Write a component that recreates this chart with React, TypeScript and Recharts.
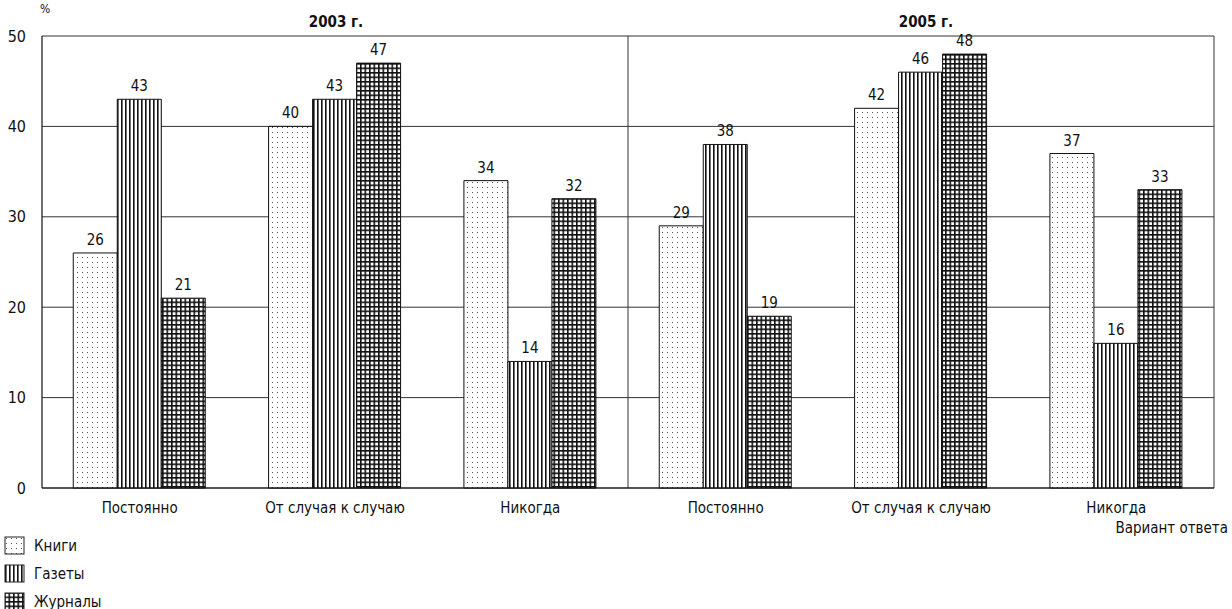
import React from 'react';
import { BarChart, Bar, XAxis, YAxis, CartesianGrid, LabelList } from 'recharts';

const categories = ['Постоянно', 'От случая к случаю', 'Никогда', 'Постоянно', 'От случая к случаю', 'Никогда'];
const books = [26, 40, 34, 29, 42, 37];
const newspapers = [43, 43, 14, 38, 46, 16];
const magazines = [21, 47, 32, 19, 48, 33];
const years = ['2003 г.', '2005 г.'];
const yTicks = [0, 10, 20, 30, 40, 50];

const data = categories.map((c, i) => ({
  key: `${c}-${i}`,
  name: c,
  books: books[i],
  newspapers: newspapers[i],
  magazines: magazines[i],
}));

const FONT = "'Liberation Sans Narrow', 'DejaVu Sans Condensed', 'Roboto Condensed', Arial, sans-serif";

const Patterns = () => (
  <defs>
    <pattern id="pDots" width="5" height="5" patternUnits="userSpaceOnUse">
      <rect width="5" height="5" fill="#fff" />
      <rect x="2" y="2" width="1" height="1" fill="#555" />
    </pattern>
    <pattern id="pLines" width="4" height="4" patternUnits="userSpaceOnUse">
      <rect width="4" height="4" fill="#fff" />
      <rect x="1" y="0" width="1.6" height="4" fill="#111" />
    </pattern>
    <pattern id="pGrid" width="4.5" height="4.5" patternUnits="userSpaceOnUse">
      <rect width="4.5" height="4.5" fill="#fff" />
      <rect x="0" y="0" width="1.6" height="4.5" fill="#111" />
      <rect x="0" y="0" width="4.5" height="1.6" fill="#111" />
    </pattern>
  </defs>
);

const legendItems = [
  { label: 'Книги', fill: 'url(#lDots)' },
  { label: 'Газеты', fill: 'url(#lLines)' },
  { label: 'Журналы', fill: 'url(#lGrid)' },
];

const LegendSwatch = ({ kind }: { kind: number }) => (
  <svg width={22} height={20} style={{ display: 'block' }}>
    <defs>
      <pattern id="lDots" width="5" height="5" patternUnits="userSpaceOnUse">
        <rect width="5" height="5" fill="#fff" />
        <rect x="2" y="2" width="1" height="1" fill="#555" />
      </pattern>
      <pattern id="lLines" width="4" height="4" patternUnits="userSpaceOnUse">
        <rect width="4" height="4" fill="#fff" />
        <rect x="1" y="0" width="1.6" height="4" fill="#111" />
      </pattern>
      <pattern id="lGrid" width="4.5" height="4.5" patternUnits="userSpaceOnUse">
        <rect width="4.5" height="4.5" fill="#fff" />
        <rect x="0" y="0" width="1.6" height="4.5" fill="#111" />
        <rect x="0" y="0" width="4.5" height="1.6" fill="#111" />
      </pattern>
    </defs>
    <rect x={1} y={1} width={19} height={17} fill={legendItems[kind].fill} stroke="#222" strokeWidth={1} />
  </svg>
);

export default function App() {
  return (
    <div style={{ position: 'absolute', left: 0, top: 0, width: 1232, height: 609, background: '#fff', fontFamily: FONT }}>
      <BarChart
        width={1232}
        height={609}
        data={data}
        margin={{ top: 36, right: 18, bottom: 91, left: 0 }}
        barCategoryGap="16%"
        barGap={0}
      >
        <Patterns />
        <CartesianGrid
          stroke="#333"
          strokeWidth={1}
          verticalCoordinatesGenerator={({ offset }: any) => [offset.left + offset.width / 2, offset.left + offset.width]}
        />
        <XAxis
          dataKey="key"
          height={30}
          tickFormatter={(v: string) => v.replace(/-\d+$/, '')}
          axisLine={{ stroke: '#111', strokeWidth: 1.2 }}
          tickLine={false}
          tick={{ fontSize: 15, fill: '#111', fontFamily: FONT }}
          tickMargin={8}
          interval={0}
        />
        <YAxis
          domain={[0, 50]}
          ticks={yTicks}
          width={42}
          axisLine={{ stroke: '#111', strokeWidth: 1.2 }}
          tickLine={false}
          tick={{ fontSize: 16, fill: '#111', fontFamily: FONT }}
          tickMargin={10}
        />
        <Bar dataKey="books" fill="url(#pDots)" stroke="#111" strokeWidth={1} isAnimationActive={false}>
          <LabelList dataKey="books" position="top" offset={8} style={{ fontSize: 15, fill: '#111', fontFamily: FONT }} />
        </Bar>
        <Bar dataKey="newspapers" fill="url(#pLines)" stroke="#111" strokeWidth={1} isAnimationActive={false}>
          <LabelList dataKey="newspapers" position="top" offset={8} style={{ fontSize: 15, fill: '#111', fontFamily: FONT }} />
        </Bar>
        <Bar dataKey="magazines" fill="url(#pGrid)" stroke="#111" strokeWidth={1} isAnimationActive={false}>
          <LabelList dataKey="magazines" position="top" offset={8} style={{ fontSize: 15, fill: '#111', fontFamily: FONT }} />
        </Bar>
      </BarChart>

      <div style={{ position: 'absolute', left: 40, top: 2, fontSize: 12, color: '#111' }}>%</div>
      <div style={{ position: 'absolute', left: 236, width: 200, top: 13, textAlign: 'center', fontSize: 15, fontWeight: 'bold', color: '#111' }}>{years[0]}</div>
      <div style={{ position: 'absolute', left: 826, width: 200, top: 13, textAlign: 'center', fontSize: 15, fontWeight: 'bold', color: '#111' }}>{years[1]}</div>
      <div style={{ position: 'absolute', right: 4, top: 519, fontSize: 15, color: '#111' }}>Вариант ответа</div>

      <div style={{ position: 'absolute', left: 4, top: 532 }}>
        {legendItems.map((it, i) => (
          <div key={it.label} style={{ display: 'flex', alignItems: 'center', height: 28 }}>
            <LegendSwatch kind={i} />
            <span style={{ marginLeft: 8, fontSize: 15, color: '#111' }}>{it.label}</span>
          </div>
        ))}
      </div>
    </div>
  );
}
